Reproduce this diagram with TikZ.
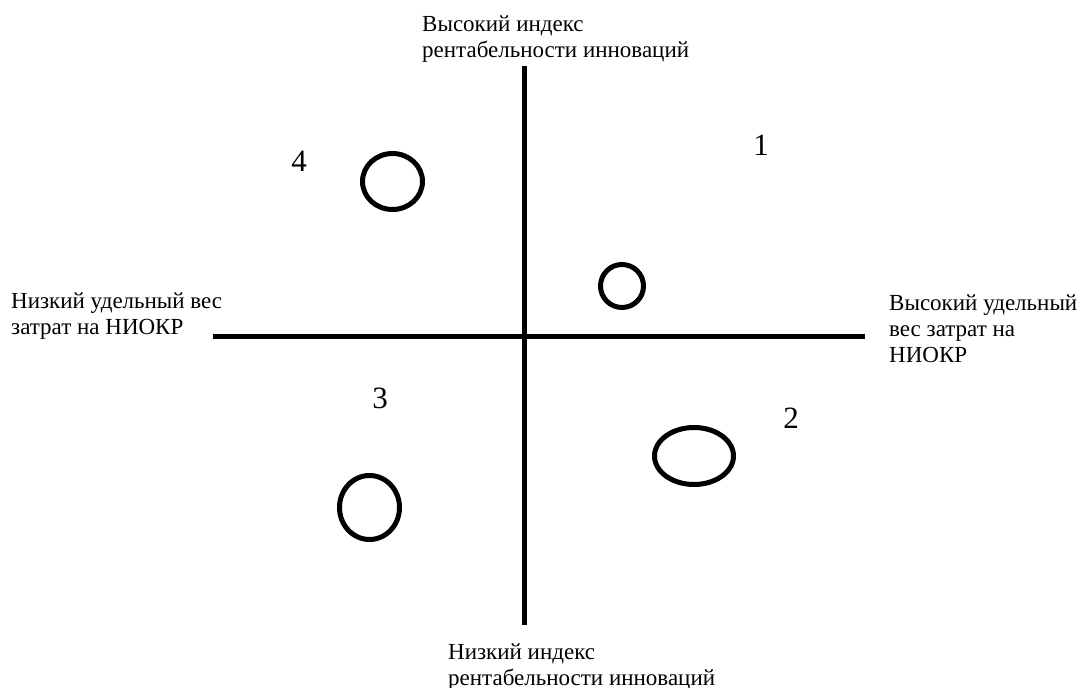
\documentclass[tikz,border=0pt]{standalone}
\usepackage{fontspec}
\setmainfont{Liberation Serif}
\usetikzlibrary{shapes.geometric}

\begin{document}
\begin{tikzpicture}[
    x=1pt, y=-1pt,
    axis/.style={
        line width=5pt,
        line cap=butt
    },
    blob/.style={
        ellipse,
        draw=black,
        line width=5pt,
        inner sep=0pt
    },
    caption/.style={
        anchor=north west,
        inner sep=0pt,
        align=left,
        font=\fontsize{23}{26}\selectfont
    },
    quadnum/.style={
        inner sep=0pt,
        font=\fontsize{31}{36}\selectfont
    }
]
\useasboundingbox (0,0) rectangle (1085,688);

% axes
\coordinate (ytop) at (524,66);
\coordinate (ybot) at (524,625);
\coordinate (xleft) at (213,336);
\coordinate (xright) at (865,336);
\draw[axis] (ytop) -- (ybot);
\draw[axis] (xleft) -- (xright);

% axis captions
\node[caption] (hiidx) at (422,16) {Высокий индекс\\рентабельности инноваций};
\node[caption] (loidx) at (448,644) {Низкий индекс\\рентабельности инноваций};
\node[caption] (lornd) at (11,293) {Низкий удельный вес\\затрат на НИОКР};
\node[caption] (hirnd) at (889,295) {Высокий удельный\\вес затрат на\\НИОКР};

% quadrant numbers
\node[quadnum] (q1) at (761,145) {1};
\node[quadnum] (q2) at (791,418) {2};
\node[quadnum] (q3) at (380,398) {3};
\node[quadnum] (q4) at (299,161) {4};

% items
\node[blob, minimum width=60pt, minimum height=56pt] (e4) at (392.5,181.5) {};
\node[blob, minimum width=43pt, minimum height=43pt] (e1) at (622,286) {};
\node[blob, minimum width=79pt, minimum height=57pt] (e2) at (694,456) {};
\node[blob, minimum width=60pt, minimum height=64pt] (e3) at (369.5,507.5) {};

\end{tikzpicture}
\end{document}
